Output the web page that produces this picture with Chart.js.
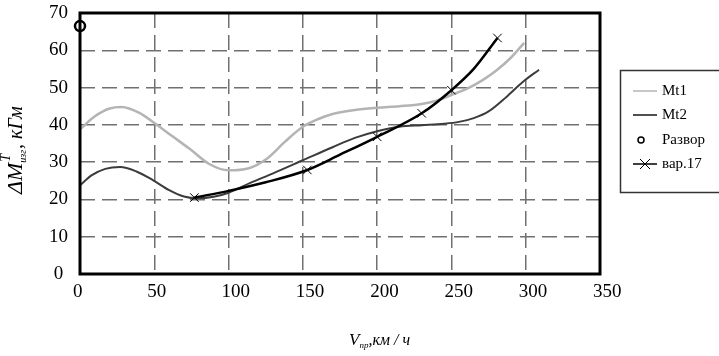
<!DOCTYPE html>
<html><head><meta charset="utf-8">
<script src="https://cdn.jsdelivr.net/npm/chart.js@4/dist/chart.umd.min.js"></script>
<style>html,body{margin:0;padding:0;background:#fff;}canvas{display:block;}</style>
</head><body>
<canvas id="c" width="719" height="356"></canvas>
<script>
// ---- data ----
const xTickMin = 0, xTickMax = 350, xTickStep = 50;
const yTickMin = 0, yTickMax = 70, yTickStep = 10;

const seriesNames = ['Mt1', 'Mt2', 'Развор', 'вар.17'];

const mt1X = [0,10,20,28,40,50,62,74,87,100,113,126,138,150,160,170,185,200,215,230,240,250,262,271,280,290,299];
const mt1Y = [38.8,42.3,44.4,44.8,43.2,40.5,37,33.5,29.5,27.8,28.3,31,35.5,39.5,41.5,42.9,44,44.6,45,45.6,46.5,48,50,52,54.5,58,62];

const mt2X = [0,8,17,27,38,49,60,70,79,90,100,115,130,150,170,185,200,215,230,245,255,265,275,287,298,309];
const mt2Y = [23.8,26.5,28.2,28.7,27.5,25.2,22.5,20.8,20.3,20.7,21.8,24.5,27,30.5,34,36.5,38.3,39.5,39.9,40.3,40.8,41.8,43.6,47.5,51.5,54.8];

const razvorX = [0];
const razvorY = [66.5];

const var17X = [77,100,125,153,175,200,230,250,265,281];
const var17Y = [20.5,22.3,24.6,27.9,32,36.8,43.1,49.3,55,63.3];
const var17Marked = [true,false,false,true,false,true,true,true,false,true];

const zip = (xs, ys) => xs.map((x, i) => ({x, y: ys[i]}));

const SERIF = '"Liberation Serif", "Times New Roman", serif';

const framePlugin = {
  id: 'frame',
  afterDraw(chart) {
    const ctx = chart.ctx, a = chart.chartArea;
    ctx.save();
    ctx.strokeStyle = '#000';
    ctx.lineWidth = 3;
    ctx.strokeRect(a.left, a.top, a.right - a.left, a.bottom - a.top);

    // y title
    ctx.save();
    ctx.translate(22, 194);
    ctx.rotate(-Math.PI / 2);
    ctx.fillStyle = '#000';
    ctx.textBaseline = 'alphabetic';
    ctx.textAlign = 'left';
    ctx.font = 'italic 22px ' + SERIF;
    ctx.fillText('ΔM', 0, 0);
    let w = ctx.measureText('ΔM').width;
    ctx.font = 'italic 14px ' + SERIF;
    ctx.fillText('T', w + 1, -12);
    const wT = ctx.measureText('T').width;
    ctx.font = 'italic 10px ' + SERIF;
    ctx.fillText('изг', w, 4);
    const wS = ctx.measureText('изг').width;
    ctx.font = 'italic 20px ' + SERIF;
    ctx.fillText(', кГм', w + Math.max(wT, wS) + 1, 0);
    ctx.restore();

    // x title
    ctx.fillStyle = '#000';
    ctx.textAlign = 'left';
    ctx.textBaseline = 'alphabetic';
    ctx.font = 'italic 17px ' + SERIF;
    ctx.fillText('V', 349, 345);
    let vx = 349 + ctx.measureText('V').width;
    ctx.font = 'italic 9px ' + SERIF;
    ctx.fillText('пр', vx, 348);
    vx += ctx.measureText('пр').width;
    ctx.font = 'italic 16px ' + SERIF;
    ctx.fillText(',км / ч', vx, 345);

    // legend
    ctx.strokeStyle = '#333';
    ctx.lineWidth = 1.5;
    ctx.strokeRect(620.5, 70.5, 120, 122);
    const rows = [91, 115, 140, 164];
    ctx.font = '15px ' + SERIF;
    ctx.textBaseline = 'middle';
    ctx.fillStyle = '#000';
    const ds = chart.data.datasets;
    ctx.strokeStyle = ds[0].borderColor; ctx.lineWidth = 1.5;
    ctx.beginPath(); ctx.moveTo(633, rows[0]); ctx.lineTo(657, rows[0]); ctx.stroke();
    ctx.strokeStyle = ds[1].borderColor; ctx.lineWidth = 1.8;
    ctx.beginPath(); ctx.moveTo(633, rows[1]); ctx.lineTo(657, rows[1]); ctx.stroke();
    ctx.strokeStyle = '#000'; ctx.lineWidth = 1.5;
    ctx.beginPath(); ctx.arc(641, rows[2], 3, 0, Math.PI * 2); ctx.stroke();
    ctx.lineWidth = 1.5;
    ctx.beginPath(); ctx.moveTo(633, rows[3]); ctx.lineTo(657, rows[3]); ctx.stroke();
    ctx.lineWidth = 1;
    ctx.beginPath();
    ctx.moveTo(640, rows[3] - 5); ctx.lineTo(650, rows[3] + 5);
    ctx.moveTo(650, rows[3] - 5); ctx.lineTo(640, rows[3] + 5);
    ctx.stroke();
    for (let i = 0; i < 4; i++) ctx.fillText(seriesNames[i], 662, rows[i]);
    ctx.restore();
  }
};

new Chart(document.getElementById('c'), {
  type: 'line',
  data: {
    datasets: [
      { label: seriesNames[0], data: zip(mt1X, mt1Y), borderColor: '#b4b4b4', borderWidth: 2.5,
        pointRadius: 0, cubicInterpolationMode: 'monotone', order: 4 },
      { label: seriesNames[1], data: zip(mt2X, mt2Y), borderColor: '#3c3c3c', borderWidth: 2,
        pointRadius: 0, cubicInterpolationMode: 'monotone', order: 3 },
      { label: seriesNames[2], data: zip(razvorX, razvorY), showLine: false, borderColor: '#000',
        backgroundColor: '#fff', pointRadius: 5, pointBorderWidth: 2.5, pointStyle: 'circle', clip: false, order: 1 },
      { label: seriesNames[3], data: zip(var17X, var17Y), borderColor: '#000', borderWidth: 2.5,
        pointStyle: 'crossRot', pointRadius: var17Marked.map(m => m ? 6 : 0), pointBorderWidth: 1,
        pointBorderColor: '#000', cubicInterpolationMode: 'monotone', order: 2 }
    ]
  },
  options: {
    responsive: false,
    animation: false,
    events: [],
    layout: { padding: { left: 0, top: 13, right: 119, bottom: 0 } },
    plugins: { legend: { display: false }, tooltip: { enabled: false } },
    scales: {
      x: {
        type: 'linear', min: xTickMin, max: xTickMax,
        ticks: { stepSize: xTickStep, align: 'start', labelOffset: -7, padding: 7, color: '#000',
                 font: { family: SERIF, size: 19 }, maxRotation: 0 },
        grid: { color: '#707070', lineWidth: 1.5, drawTicks: false },
        border: { display: false, dash: [15, 7] },
        afterFit(s) { s.height = 82; s.paddingLeft = 0; s.paddingRight = 0; }
      },
      y: {
        type: 'linear', min: yTickMin, max: yTickMax,
        ticks: { stepSize: yTickStep, crossAlign: 'center', padding: 12, color: '#000',
                 font: { family: SERIF, size: 19 } },
        grid: { color: '#707070', lineWidth: 1.5, drawTicks: false },
        border: { display: false, dash: [15, 7] },
        afterFit(s) { s.width = 80; s.paddingTop = 0; s.paddingBottom = 0; }
      }
    }
  },
  plugins: [framePlugin]
});
</script>
</body></html>
